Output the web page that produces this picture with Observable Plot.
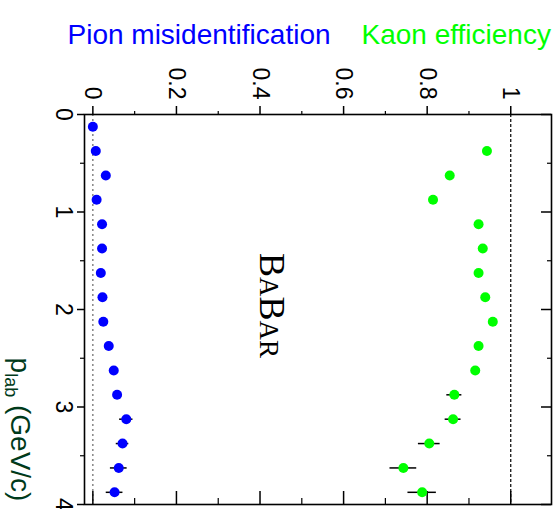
<!DOCTYPE html>
<html><head><meta charset="utf-8">
<script src="https://cdn.jsdelivr.net/npm/d3@7"></script>
<script src="https://cdn.jsdelivr.net/npm/@observablehq/plot@0.6"></script>
<style>body{margin:0;background:#fff;overflow:hidden}</style>
</head><body><div id="chart"></div>
<script>
// momentum bins (GeV/c)
const pionP = [0.125, 0.375, 0.625, 0.875, 1.125, 1.375, 1.625, 1.875, 2.125, 2.375, 2.625, 2.875, 3.125, 3.375, 3.625, 3.875];
const pionEff = [0.000, 0.007, 0.031, 0.009, 0.022, 0.022, 0.019, 0.023, 0.025, 0.038, 0.050, 0.058, 0.080, 0.071, 0.062, 0.052];
const pionErr = [0.001, 0.001, 0.002, 0.002, 0.002, 0.002, 0.002, 0.003, 0.003, 0.004, 0.005, 0.006, 0.016, 0.015, 0.020, 0.020];

const kaonP = [0.375, 0.625, 0.875, 1.125, 1.375, 1.625, 1.875, 2.125, 2.375, 2.625, 2.875, 3.125, 3.375, 3.625, 3.875];
const kaonEff = [0.943, 0.854, 0.814, 0.923, 0.933, 0.923, 0.939, 0.957, 0.923, 0.915, 0.865, 0.862, 0.805, 0.743, 0.788];
const kaonErr = [0.003, 0.004, 0.005, 0.005, 0.005, 0.006, 0.006, 0.007, 0.008, 0.009, 0.018, 0.019, 0.026, 0.032, 0.034];

const effMajor = [0, 0.2, 0.4, 0.6, 0.8, 1];
const effMinor = [0.1, 0.3, 0.5, 0.7, 0.9];
const pMajor = [0, 1, 2, 3, 4];
const pMinor = [0.5, 1.5, 2.5, 3.5];

const seriesNames = ["Pion misidentification", "Kaon efficiency"];
const seriesColors = ["#0000ff", "#00ff00"];
const logoText = ["BABAR"];
const yLabel = ["plab (GeV/c)"];

const pion = pionP.map((p, i) => ({p, v: pionEff[i], lo: pionEff[i] - pionErr[i], hi: pionEff[i] + pionErr[i]}));
const kaon = kaonP.map((p, i) => ({p, v: kaonEff[i], lo: kaonEff[i] - kaonErr[i], hi: kaonEff[i] + kaonErr[i]}));

const W = 560, H = 509, mt = 114, mb = 5, ml = 84, mr = 9;
const innerW = W - ml - mr, innerH = H - mt - mb;

const plot = Plot.plot({
  width: W, height: H,
  marginTop: mt, marginBottom: mb, marginLeft: ml, marginRight: mr,
  style: {fontFamily: "'Liberation Sans', Arial, sans-serif", background: "white", color: "black"},
  x: {domain: [-0.02, 1.0975]},
  y: {domain: [0, 4], reverse: true},
  marks: [
    Plot.ruleX([0], {stroke: "#666", strokeDasharray: "2,3", strokeWidth: 1.2}),
    Plot.ruleX([1], {stroke: "black", strokeDasharray: "3,2", strokeWidth: 1.2}),
    Plot.axisX(effMajor, {anchor: "top", tickSize: 9, tickRotate: 90, tickPadding: 6, fontSize: 23, tickFormat: d => String(d), label: null, strokeWidth: 1.5}),
    Plot.axisX(effMinor, {anchor: "top", tickSize: 4, tickFormat: () => "", label: null, strokeWidth: 1.2}),
    Plot.axisY(pMajor, {anchor: "left", tickSize: 7, tickRotate: 90, tickPadding: 5, fontSize: 23, tickFormat: d => String(d), label: null, strokeWidth: 1.5}),
    Plot.axisY(pMinor, {anchor: "left", tickSize: 4, tickFormat: () => "", label: null, strokeWidth: 1.2}),
    Plot.tickX(effMajor, {x: d => d, insetTop: innerH - 13, strokeWidth: 1.5}),
    Plot.tickX(effMinor, {x: d => d, insetTop: innerH - 6, strokeWidth: 1.2}),
    Plot.tickY(pMajor, {y: d => d, insetLeft: innerW - 10, strokeWidth: 1.5}),
    Plot.tickY(pMinor, {y: d => d, insetLeft: innerW - 4, strokeWidth: 1.2}),
    Plot.frame({strokeWidth: 1.6}),
    Plot.ruleY(pion, {y: "p", x1: "lo", x2: "hi", strokeWidth: 1.5}),
    Plot.ruleY(kaon, {y: "p", x1: "lo", x2: "hi", strokeWidth: 1.5}),
    Plot.dot(pion, {x: "v", y: "p", r: 5, fill: seriesColors[0]}),
    Plot.dot(kaon, {x: "v", y: "p", r: 5, fill: seriesColors[1]}),
    Plot.text([seriesNames[0]], {text: d => d, frameAnchor: "top-left", dx: -17, dy: -71, textAnchor: "start", lineAnchor: "bottom", fontSize: 28, fill: seriesColors[0]}),
    Plot.text([seriesNames[1]], {text: d => d, frameAnchor: "top-left", dx: 277, dy: -71, textAnchor: "start", lineAnchor: "bottom", fontSize: 28, fill: seriesColors[1]}),
    Plot.text(logoText, {text: d => d, frameAnchor: "middle", dx: -46, dy: -4, rotate: 90, textAnchor: "middle", fontSize: 36, fontFamily: "'Liberation Serif', 'Times New Roman', serif", fill: "black"}),
    Plot.text(yLabel, {text: d => d, frameAnchor: "left", dx: -65, dy: 120, rotate: 90, textAnchor: "middle", fontSize: 28, fill: "#003a1a"})
  ]
});

const svg = d3.select(plot);
svg.selectAll("text").filter(function() { return this.textContent === "BABAR"; })
  .html('B<tspan font-size="27">A</tspan>B<tspan font-size="27">AR</tspan>');
svg.selectAll("text").filter(function() { return this.textContent === "plab (GeV/c)"; })
  .html('p<tspan font-size="18" dy="6">lab</tspan><tspan dy="-6"> (GeV/c)</tspan>');

document.getElementById("chart").appendChild(plot);
</script>
</body></html>
